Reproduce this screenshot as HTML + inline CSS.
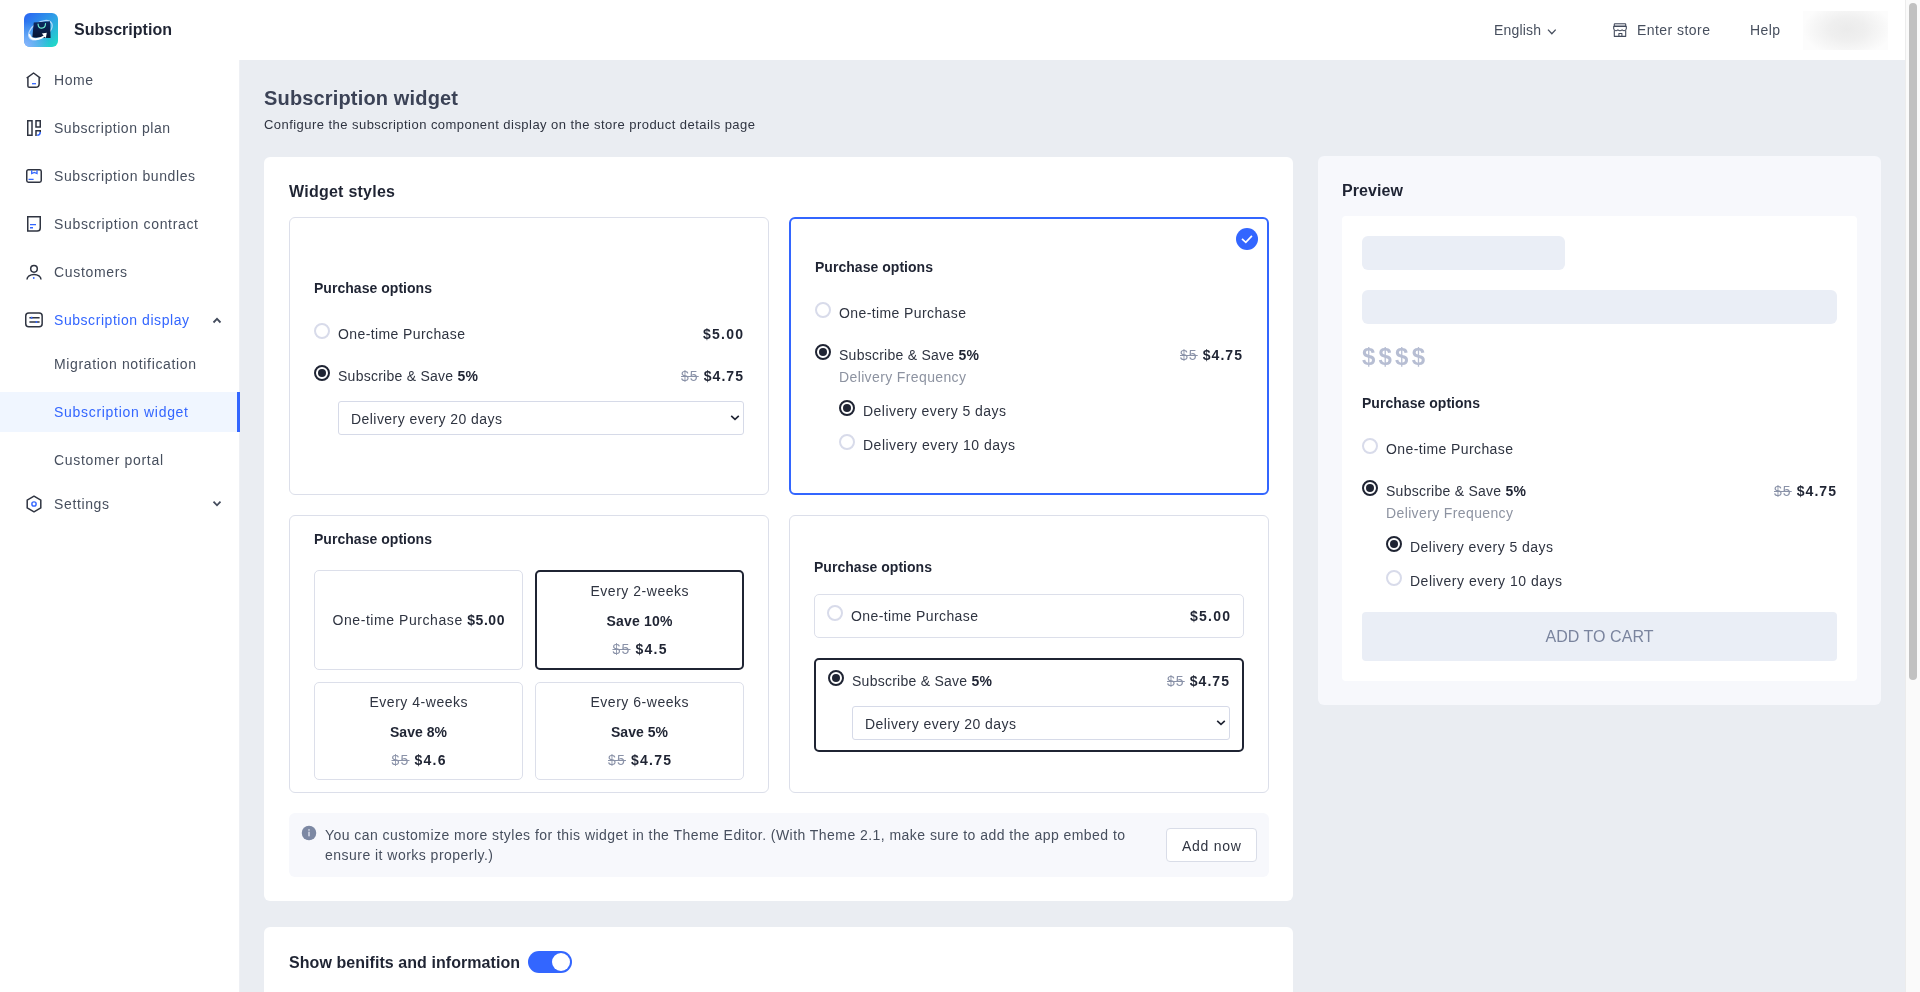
<!DOCTYPE html>
<html lang="en">
<head>
<meta charset="utf-8">
<title>Subscription widget</title>
<style>
*{box-sizing:border-box;margin:0;padding:0}
html,body{width:1920px;height:992px;overflow:hidden;background:#fff}
body{font-family:"Liberation Sans",sans-serif;font-size:14px;color:#474f5e;position:relative}
#root{position:absolute;left:0;top:0;width:1920px;height:992px;overflow:hidden;will-change:transform;opacity:.999}
.abs{position:absolute}
.t{position:absolute;white-space:nowrap;line-height:20px;height:20px}
.b{font-weight:bold;color:#1f2433}
.dk{color:#2f3441}
/* ---------- page chrome ---------- */
#main{position:absolute;left:240px;top:60px;width:1665px;height:932px;background:#eaedf2}
#side{position:absolute;left:0;top:60px;width:240px;height:932px;background:#fff;border-right:1px solid #eef0f4}
#sb{position:absolute;left:1905px;top:0;width:15px;height:992px;background:#fafafa;border-left:1px solid #ececec}
#sb i{position:absolute;left:3px;top:3px;width:8px;height:677px;border-radius:4px;background:#c1c1c1}
/* sidebar */
.nav{position:absolute;left:0;width:239px;height:40px}
.nav .t{left:54px;top:10px}
.nav svg.ic{position:absolute;left:24px;top:10px;width:20px;height:20px}
.nav.act{background:#f0f6ff}
.nav.act:after{content:"";position:absolute;right:-1px;top:0;width:3px;height:40px;background:#3366ff}
.blue{color:#3366ff}
/* cards */
.card{position:absolute;background:#fff;border-radius:6px}
.wc{position:absolute;border:1px solid #dcdfea;border-radius:6px;background:#fff}
.h16{font-size:16px;font-weight:bold;color:#1f2433;line-height:24px;height:24px}
/* radios */
.r{position:absolute;width:16px;height:16px;border-radius:50%;border:2px solid #d8dbea;background:#fff}
.r.on{border:2px solid #1f2433}
.r.on:after{content:"";position:absolute;left:2px;top:2px;width:8px;height:8px;border-radius:50%;background:#1f2433}
.s{color:#8a92a8;text-decoration:line-through}
.g{color:#8d93a1}
.sel{position:absolute;border:1px solid #d6dae8;border-radius:3px;background:#fff}
.sel svg{position:absolute;right:2px;top:12px;width:12px;height:8px}
.opt{position:absolute;border:1px solid #dcdfea;border-radius:5px;background:#fff}
.opt.on{border:2px solid #1f2433}
.c{text-align:center}
.sk{position:absolute;background:#eaeef6;border-radius:6px}
</style>
</head>
<body>
<div id="root">

<!-- ================= HEADER ================= -->
<div class="abs" style="left:0;top:0;width:1905px;height:60px;background:#fff"></div>
<svg class="abs" style="left:24px;top:13px" width="34" height="34" viewBox="0 0 34 34">
  <defs>
    <linearGradient id="lg1" x1="0" y1="0" x2="1" y2="1">
      <stop offset="0" stop-color="#2a62f4"/><stop offset=".5" stop-color="#2f9fe6"/><stop offset="1" stop-color="#1fe0c4"/>
    </linearGradient>
    <radialGradient id="lg2" cx="0" cy="1" r=".75">
      <stop offset="0" stop-color="#8fb6ff"/><stop offset="1" stop-color="#8fb6ff" stop-opacity="0"/>
    </radialGradient>
    <linearGradient id="lg3" x1="0" y1="0" x2="0" y2="1">
      <stop offset="0" stop-color="#0d2a63"/><stop offset="1" stop-color="#061230"/>
    </linearGradient>
  </defs>
  <rect width="34" height="34" rx="6" fill="url(#lg1)"/>
  <rect width="34" height="34" rx="6" fill="url(#lg2)"/>
  <ellipse cx="16.4" cy="17.2" rx="13.2" ry="7.6" transform="rotate(-34 16.4 17.2)" fill="none" stroke="#cfe6ff" stroke-width="1.3" opacity=".8"/>
  <path d="M9.75 9.5 L26 8.2 L26.6 25.1 L8.3 24.5 Z" fill="url(#lg3)"/>
  <path d="M14.1 11.2 C14.4 16.6 21.2 16.4 21.5 10.7" fill="none" stroke="#6ff0d2" stroke-width="1.2" stroke-linecap="round"/>
  <path d="M5.6 22 C6.6 27.4 15 27.2 21 22.6" fill="none" stroke="#fff" stroke-width="1.8" stroke-linecap="round"/>
  <path d="M17.8 20.4 L22.8 19.8 L21.8 25 Z" fill="#fff"/>
</svg>
<div class="t b" style="left:74px;top:19px;font-size:16px;line-height:22px;height:22px"><span style="letter-spacing:0.02px;margin-right:-0.02px">Subscription</span></div>

<div class="t" style="left:1494px;top:20px"><span style="letter-spacing:0.18px;margin-right:-0.18px">English</span></div>
<svg class="abs" style="left:1546px;top:27px" width="12" height="8" viewBox="0 0 12 8"><path d="M2 2.6 L5.85 6.7 L9.7 2.6" fill="none" stroke="#474f5e" stroke-width="1.3"/></svg>
<svg class="abs" style="left:1612px;top:22px" width="16" height="16" viewBox="0 0 16 16" fill="none" stroke="#434b5c" stroke-width="1.1" stroke-linejoin="round">
  <rect x="2.3" y="1.7" width="11.4" height="2.65" rx=".5" fill="#eceef2"/>
  <path d="M1.7 4.35 H14.3 V6.8 Q14.1 8.6 12.1 8.7 Q11 8.7 10.1 7.9 Q8 9.6 5.9 7.9 Q5 8.7 3.9 8.7 Q1.9 8.6 1.7 6.8 Z"/>
  <path d="M2.3 8.6 V14.35 H13.7 V8.6 M6.9 14.35 V11.5 H9.9 V14.35"/>
</svg>
<div class="t" style="left:1637px;top:20px"><span style="letter-spacing:0.452px;margin-right:-0.452px">Enter store</span></div>
<div class="t" style="left:1750px;top:20px"><span style="letter-spacing:0.401px;margin-right:-0.401px">Help</span></div>
<div class="abs" style="left:1803px;top:11px;width:85px;height:39px;background:radial-gradient(ellipse 52% 70% at 52% 47%,#ebebeb 0%,#efefef 40%,#f7f7f7 78%,#fcfcfc 100%)"></div>

<!-- ================= SIDEBAR ================= -->
<div id="side">

<div class="nav" style="top:0">
  <svg class="ic" viewBox="0 0 20 20" fill="none" stroke="#2f3441" stroke-width="1.5" stroke-linejoin="round"><path d="M2.7 8.1 L9.55 3 L16.4 8.1" stroke-linecap="butt"/><path d="M3.9 7.4 V16 Q3.9 17.3 5.2 17.3 H11.6 Q15.15 17.3 15.15 13.7 V7.4"/><path d="M8 13.7 H12" stroke="#3366ff" stroke-width="1.3"/></svg>
  <div class="t"><span style="letter-spacing:0.547px;margin-right:-0.547px">Home</span></div>
</div>
<div class="nav" style="top:48px">
  <svg class="ic" viewBox="0 0 20 20" fill="none" stroke="#2f3441" stroke-width="1.5"><rect x="3.75" y="2.75" width="4.25" height="14.5"/><rect x="12" y="2.75" width="4.25" height="6.25"/><path d="M12 18 V12.75 H16.25 V14.2"/><path d="M16.25 14 Q16.25 17.25 13.2 17.25" stroke="#3366ff"/></svg>
  <div class="t"><span style="letter-spacing:0.537px;margin-right:-0.537px">Subscription plan</span></div>
</div>
<div class="nav" style="top:96px">
  <svg class="ic" viewBox="0 0 20 20" fill="none" stroke="#2f3441" stroke-width="1.5"><rect x="2.75" y="3.7" width="14.5" height="12.5" rx="1.7"/><path d="M7.7 4.3 V7.5 L10.35 6.5 L13 7.5 V4.3 M4.5 13.4 H9.6" stroke="#3366ff" stroke-width="1.3"/></svg>
  <div class="t"><span style="letter-spacing:0.58px;margin-right:-0.58px">Subscription bundles</span></div>
</div>
<div class="nav" style="top:144px">
  <svg class="ic" viewBox="0 0 20 20" fill="none" stroke="#2f3441" stroke-width="1.5"><path d="M3.75 2.75 H16.25 V14 Q16.25 17.1 13.2 17.1 H3.75 Z"/><path d="M6 10.6 H12 M6 13.75 H9" stroke="#3366ff" stroke-width="1.3"/></svg>
  <div class="t"><span style="letter-spacing:0.663px;margin-right:-0.663px">Subscription contract</span></div>
</div>
<div class="nav" style="top:192px">
  <svg class="ic" viewBox="0 0 20 20" fill="none" stroke="#2f3441" stroke-width="1.5"><circle cx="10" cy="6.85" r="3.3"/><path d="M3 17.4 A7 5 0 0 1 17 17.4"/><circle cx="9.75" cy="16" r=".9" fill="#3366ff" stroke="none"/></svg>
  <div class="t"><span style="letter-spacing:0.664px;margin-right:-0.664px">Customers</span></div>
</div>
<div class="nav" style="top:240px">
  <svg class="ic" viewBox="0 0 20 20" fill="none" stroke="#2f3441" stroke-width="1.5"><rect x="1.75" y="3" width="16.4" height="13.75" rx="3"/><path d="M5.4 7.75 H15.6 M5.4 12 H15.6" stroke-width="1.3"/><path d="M6.8 7.75 H8.4 M11.6 12 H13.2" stroke="#3366ff" stroke-width="1.8"/></svg>
  <div class="t blue"><span style="letter-spacing:0.552px;margin-right:-0.552px">Subscription display</span></div>
  <svg class="abs" style="left:211px;top:16px" width="12" height="8" viewBox="0 0 12 8"><path d="M2.5 6.5 L6 2.9 L9.5 6.5" fill="none" stroke="#434b5c" stroke-width="1.8"/></svg>
</div>
<div class="nav" style="top:284px"><div class="t"><span style="letter-spacing:0.647px;margin-right:-0.647px">Migration notification</span></div></div>
<div class="nav act" style="top:332px"><div class="t blue"><span style="letter-spacing:0.7px;margin-right:-0.7px">Subscription widget</span></div></div>
<div class="nav" style="top:380px"><div class="t"><span style="letter-spacing:0.672px;margin-right:-0.672px">Customer portal</span></div></div>
<div class="nav" style="top:424px">
  <svg class="ic" viewBox="0 0 20 20" fill="none" stroke="#2f3441" stroke-width="1.5" stroke-linejoin="round"><path d="M10 2.2 L16.8 6.1 V13.9 L10 17.8 L3.2 13.9 V6.1 Z"/><circle cx="10" cy="10" r="2.15" stroke="#3366ff" stroke-width="1.4"/></svg>
  <div class="t"><span style="letter-spacing:0.629px;margin-right:-0.629px">Settings</span></div>
  <svg class="abs" style="left:211px;top:16px" width="12" height="8" viewBox="0 0 12 8"><path d="M2.5 1.7 L6 5.3 L9.5 1.7" fill="none" stroke="#434b5c" stroke-width="1.8"/></svg>
</div>

</div>

<!-- ================= MAIN ================= -->
<div id="main"></div>

<!-- title -->
<div class="t" style="left:264px;top:84px;font-size:20px;font-weight:bold;color:#3b4256;line-height:28px;height:28px"><span style="letter-spacing:0.16px;margin-right:-0.16px">Subscription widget</span></div>
<div class="t" style="left:264px;top:115px;font-size:13px;color:#2f3441"><span style="letter-spacing:0.454px;margin-right:-0.454px">Configure the subscription component display on the store product details page</span></div>

<!-- main card 1 -->
<div class="card" style="left:264px;top:157px;width:1029px;height:744px"></div>
<div class="t h16" style="left:289px;top:180px"><span style="letter-spacing:0.25px;margin-right:-0.25px">Widget styles</span></div>

<!-- widget style 1 -->
<div class="wc" style="left:289px;top:217px;width:480px;height:278px"></div>
<div class="t b" style="left:314px;top:278px"><span style="letter-spacing:0.035px;margin-right:-0.035px">Purchase options</span></div>
<div class="r" style="left:314px;top:323px"></div>
<div class="t dk" style="left:338px;top:324px"><span style="letter-spacing:0.399px;margin-right:-0.399px">One-time Purchase</span></div>
<div class="t b" style="right:1177px;top:324px"><span style="letter-spacing:1.238px;margin-right:-1.238px">$5.00</span></div>
<div class="r on" style="left:314px;top:365px"></div>
<div class="t dk" style="left:338px;top:366px"><span style="letter-spacing:0.255px;margin-right:-0.255px">Subscribe &amp; Save <b class="b">5%</b></span></div>
<div class="t" style="right:1177px;top:366px"><span style="letter-spacing:1.069px;margin-right:-1.069px"><span class="s">$5</span> <b class="b">$4.75</b></span></div>
<div class="sel" style="left:338px;top:401px;width:406px;height:34px"><svg viewBox="0 0 12 8"><path d="M2.2 1.8 L6 5.4 L9.8 1.8" fill="none" stroke="#1f2433" stroke-width="1.6"/></svg></div>
<div class="t dk" style="left:351px;top:409px"><span style="letter-spacing:0.446px;margin-right:-0.446px">Delivery every 20 days</span></div>

<!-- widget style 2 (selected) -->
<div class="wc" style="left:789px;top:217px;width:480px;height:278px;border:2px solid #3366ff"></div>
<svg class="abs" style="left:1236px;top:228px" width="22" height="22" viewBox="0 0 22 22"><circle cx="11" cy="11" r="11" fill="#3366ff"/><path d="M6 10.9 L9.8 14.3 L15.9 7.9" fill="none" stroke="#fff" stroke-width="1.7"/></svg>
<div class="t b" style="left:815px;top:257px"><span style="letter-spacing:0.035px;margin-right:-0.035px">Purchase options</span></div>
<div class="r" style="left:815px;top:302px"></div>
<div class="t dk" style="left:839px;top:303px"><span style="letter-spacing:0.399px;margin-right:-0.399px">One-time Purchase</span></div>
<div class="r on" style="left:815px;top:344px"></div>
<div class="t dk" style="left:839px;top:345px"><span style="letter-spacing:0.255px;margin-right:-0.255px">Subscribe &amp; Save <b class="b">5%</b></span></div>
<div class="t" style="right:678px;top:345px"><span style="letter-spacing:1.069px;margin-right:-1.069px"><span class="s">$5</span> <b class="b">$4.75</b></span></div>
<div class="t g" style="left:839px;top:367px"><span style="letter-spacing:0.376px;margin-right:-0.376px">Delivery Frequency</span></div>
<div class="r on" style="left:839px;top:400px"></div>
<div class="t dk" style="left:863px;top:401px"><span style="letter-spacing:0.459px;margin-right:-0.459px">Delivery every 5 days</span></div>
<div class="r" style="left:839px;top:434px"></div>
<div class="t dk" style="left:863px;top:435px"><span style="letter-spacing:0.494px;margin-right:-0.494px">Delivery every 10 days</span></div>

<!-- widget style 3 -->
<div class="wc" style="left:289px;top:515px;width:480px;height:278px"></div>
<div class="t b" style="left:314px;top:529px"><span style="letter-spacing:0.035px;margin-right:-0.035px">Purchase options</span></div>
<div class="opt" style="left:314px;top:570px;width:209px;height:100px"></div>
<div class="t dk c" style="left:314px;width:209px;top:610px"><span style="letter-spacing:0.566px;margin-right:-0.566px">One-time Purchase <b class="b">$5.00</b></span></div>
<div class="opt on" style="left:535px;top:570px;width:209px;height:100px"></div>
<div class="t dk c" style="left:535px;width:209px;top:581px"><span style="letter-spacing:0.516px;margin-right:-0.516px">Every 2-weeks</span></div>
<div class="t b c" style="left:535px;width:209px;top:611px"><span style="letter-spacing:0.199px;margin-right:-0.199px">Save 10%</span></div>
<div class="t c" style="left:535px;width:209px;top:639px"><span style="letter-spacing:1.214px;margin-right:-1.214px"><span class="s">$5</span> <b class="b">$4.5</b></span></div>
<div class="opt" style="left:314px;top:682px;width:209px;height:98px"></div>
<div class="t dk c" style="left:314px;width:209px;top:692px"><span style="letter-spacing:0.516px;margin-right:-0.516px">Every 4-weeks</span></div>
<div class="t b c" style="left:314px;width:209px;top:722px"><span style="letter-spacing:0.029px;margin-right:-0.029px">Save 8%</span></div>
<div class="t c" style="left:314px;width:209px;top:750px"><span style="letter-spacing:1.214px;margin-right:-1.214px"><span class="s">$5</span> <b class="b">$4.6</b></span></div>
<div class="opt" style="left:535px;top:682px;width:209px;height:98px"></div>
<div class="t dk c" style="left:535px;width:209px;top:692px"><span style="letter-spacing:0.516px;margin-right:-0.516px">Every 6-weeks</span></div>
<div class="t b c" style="left:535px;width:209px;top:722px"><span style="letter-spacing:0.029px;margin-right:-0.029px">Save 5%</span></div>
<div class="t c" style="left:535px;width:209px;top:750px"><span style="letter-spacing:1.212px;margin-right:-1.212px"><span class="s">$5</span> <b class="b">$4.75</b></span></div>

<!-- widget style 4 -->
<div class="wc" style="left:789px;top:515px;width:480px;height:278px"></div>
<div class="t b" style="left:814px;top:557px"><span style="letter-spacing:0.035px;margin-right:-0.035px">Purchase options</span></div>
<div class="opt" style="left:814px;top:594px;width:430px;height:44px"></div>
<div class="r" style="left:827px;top:605px"></div>
<div class="t dk" style="left:851px;top:606px"><span style="letter-spacing:0.399px;margin-right:-0.399px">One-time Purchase</span></div>
<div class="t b" style="right:690px;top:606px"><span style="letter-spacing:1.238px;margin-right:-1.238px">$5.00</span></div>
<div class="opt on" style="left:814px;top:658px;width:430px;height:94px"></div>
<div class="r on" style="left:828px;top:670px"></div>
<div class="t dk" style="left:852px;top:671px"><span style="letter-spacing:0.255px;margin-right:-0.255px">Subscribe &amp; Save <b class="b">5%</b></span></div>
<div class="t" style="right:691px;top:671px"><span style="letter-spacing:1.069px;margin-right:-1.069px"><span class="s">$5</span> <b class="b">$4.75</b></span></div>
<div class="sel" style="left:852px;top:706px;width:378px;height:34px"><svg viewBox="0 0 12 8"><path d="M2.2 1.8 L6 5.4 L9.8 1.8" fill="none" stroke="#1f2433" stroke-width="1.6"/></svg></div>
<div class="t dk" style="left:865px;top:714px"><span style="letter-spacing:0.446px;margin-right:-0.446px">Delivery every 20 days</span></div>

<!-- info banner -->
<div class="abs" style="left:289px;top:813px;width:980px;height:64px;background:#f7f8fc;border-radius:6px"></div>
<svg class="abs" style="left:301px;top:825px" width="16" height="16" viewBox="0 0 16 16"><circle cx="8" cy="8" r="7.25" fill="#7c88a3"/><rect x="7.3" y="6.7" width="1.4" height="4.6" fill="#dfe3ee"/><rect x="7.3" y="4.2" width="1.4" height="1.5" fill="#dfe3ee"/></svg>
<div class="t" style="left:325px;top:825px"><span style="letter-spacing:0.452px;margin-right:-0.452px">You can customize more styles for this widget in the Theme Editor. (With Theme 2.1, make sure to add the app embed to</span></div>
<div class="t" style="left:325px;top:845px"><span style="letter-spacing:0.474px;margin-right:-0.474px">ensure it works properly.)</span></div>
<div class="abs" style="left:1166px;top:828px;width:91px;height:34px;border:1px solid #d9dde8;border-radius:4px;background:#fff"></div>
<div class="t dk c" style="left:1166px;width:91px;top:836px"><span style="letter-spacing:0.753px;margin-right:-0.753px">Add now</span></div>

<!-- main card 2 -->
<div class="card" style="left:264px;top:927px;width:1029px;height:80px"></div>
<div class="t h16" style="left:289px;top:951px"><span style="letter-spacing:0.06px;margin-right:-0.06px">Show benifits and information</span></div>
<div class="abs" style="left:528px;top:951px;width:44px;height:22px;border-radius:11px;background:#3366ff"><div class="abs" style="right:2px;top:2px;width:18px;height:18px;border-radius:50%;background:#fff"></div></div>

<!-- preview -->
<div class="card" style="left:1318px;top:156px;width:563px;height:549px;background:#f7f8fc"></div>
<div class="t h16" style="left:1342px;top:179px"><span style="letter-spacing:0.086px;margin-right:-0.086px">Preview</span></div>
<div class="abs" style="left:1342px;top:216px;width:515px;height:465px;background:#fff;border-radius:4px"></div>
<div class="sk" style="left:1362px;top:236px;width:203px;height:34px"></div>
<div class="sk" style="left:1362px;top:290px;width:475px;height:34px"></div>
<div class="t" style="left:1362px;top:341px;font-size:24px;font-weight:bold;color:#b7bed3;line-height:32px;height:32px"><span style="letter-spacing:3.203px;margin-right:-3.203px">$$$$</span></div>
<div class="t b" style="left:1362px;top:393px"><span style="letter-spacing:0.035px;margin-right:-0.035px">Purchase options</span></div>
<div class="r" style="left:1362px;top:438px"></div>
<div class="t dk" style="left:1386px;top:439px"><span style="letter-spacing:0.399px;margin-right:-0.399px">One-time Purchase</span></div>
<div class="r on" style="left:1362px;top:480px"></div>
<div class="t dk" style="left:1386px;top:481px"><span style="letter-spacing:0.255px;margin-right:-0.255px">Subscribe &amp; Save <b class="b">5%</b></span></div>
<div class="t" style="right:84px;top:481px"><span style="letter-spacing:1.069px;margin-right:-1.069px"><span class="s">$5</span> <b class="b">$4.75</b></span></div>
<div class="t g" style="left:1386px;top:503px"><span style="letter-spacing:0.376px;margin-right:-0.376px">Delivery Frequency</span></div>
<div class="r on" style="left:1386px;top:536px"></div>
<div class="t dk" style="left:1410px;top:537px"><span style="letter-spacing:0.459px;margin-right:-0.459px">Delivery every 5 days</span></div>
<div class="r" style="left:1386px;top:570px"></div>
<div class="t dk" style="left:1410px;top:571px"><span style="letter-spacing:0.494px;margin-right:-0.494px">Delivery every 10 days</span></div>
<div class="abs" style="left:1362px;top:612px;width:475px;height:49px;background:#eaeef6;border-radius:4px"></div>
<div class="t c" style="left:1362px;width:475px;top:627px;font-size:16px;color:#7a849e"><span style="letter-spacing:0.042px;margin-right:-0.042px">ADD TO CART</span></div>



<!-- scrollbar -->
<div id="sb"><i></i></div>
</div>
</body>
</html>
